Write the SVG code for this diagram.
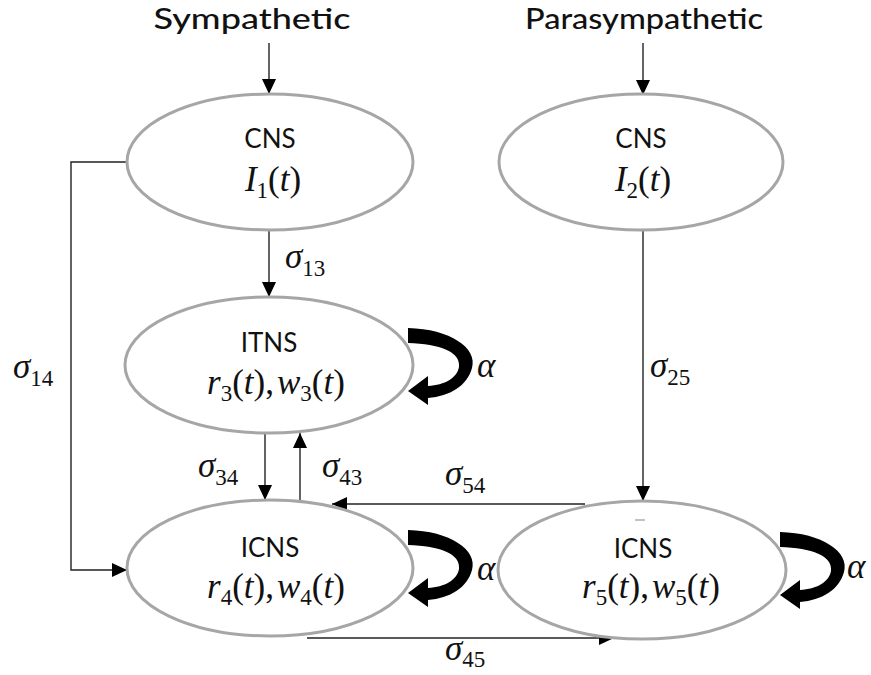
<svg xmlns="http://www.w3.org/2000/svg" width="871" height="675" viewBox="0 0 871 675">
  <defs>
    <style>
      .node { fill: #ffffff; stroke: #a6a6a6; stroke-width: 3; }
      .title { font-family: Lato, "Open Sans", sans-serif; font-size: 28px; font-weight: 500; fill: #111; text-anchor: middle; }
      .lbl { font-family: Lato, "Open Sans", sans-serif; font-size: 26px; fill: #111; text-anchor: middle; }
      .m { font-family: "Liberation Serif", "DejaVu Serif", serif; font-size: 35px; fill: #111; }
      .mc { text-anchor: middle; }
      .i { font-style: italic; }
      .sub { font-size: 23px; }
      .edge { fill: none; stroke: #222; stroke-width: 1.4; marker-end: url(#head); }
      .loop { fill: #000; }
    </style>
    <marker id="head" markerUnits="userSpaceOnUse" markerWidth="16" markerHeight="14" refX="15" refY="7" orient="auto">
      <path d="M0,0 L15,7 L0,14 Z" fill="#000"/>
    </marker>
    <!-- thick self-loop arrow, drawn relative to its top-left start -->
    <path id="selfloop" class="loop" d="M0 0 C42 1, 70 20, 64 40 C59 58, 42 68, 20 70 L20 77 L0 63 L20 48 L20 58 C37 57, 49 50, 51 39 C53 24, 32 16, 0 15 Z"/>
  </defs>

  <!-- input labels -->
  <text class="title" x="252" y="29" textLength="197" lengthAdjust="spacingAndGlyphs">Sympathetic</text>
  <text class="title" x="644" y="29" textLength="238" lengthAdjust="spacingAndGlyphs">Parasympathetic</text>

  <!-- connectors -->
  <g id="connectors">
    <line class="edge" x1="269" y1="43" x2="269" y2="94"/>
    <line class="edge" x1="643" y1="43" x2="643" y2="95"/>
    <line class="edge" x1="269" y1="230" x2="269" y2="297"/>
    <polyline class="edge" points="127,162 71,162 71,570 127,570"/>
    <line class="edge" x1="265" y1="433" x2="265" y2="500"/>
    <line class="edge" x1="300" y1="500" x2="300" y2="433"/>
    <line class="edge" x1="643" y1="231" x2="643" y2="501"/>
    <line class="edge" x1="585" y1="504" x2="332" y2="504"/>
    <line class="edge" x1="307" y1="638" x2="614" y2="638"/>

    <text class="m" x="285" y="268"><tspan class="i">σ</tspan><tspan class="sub" dy="8">13</tspan></text>
    <text class="m" x="13" y="378"><tspan class="i">σ</tspan><tspan class="sub" dy="8">14</tspan></text>
    <text class="m" x="198" y="477"><tspan class="i">σ</tspan><tspan class="sub" dy="8">34</tspan></text>
    <text class="m" x="322" y="477"><tspan class="i">σ</tspan><tspan class="sub" dy="8">43</tspan></text>
    <text class="m" x="445" y="485"><tspan class="i">σ</tspan><tspan class="sub" dy="8">54</tspan></text>
    <text class="m" x="650" y="377"><tspan class="i">σ</tspan><tspan class="sub" dy="8">25</tspan></text>
    <text class="m" x="445" y="660"><tspan class="i">σ</tspan><tspan class="sub" dy="7">45</tspan></text>

    <!-- self-excitation loops -->
    <use href="#selfloop" x="408" y="328"/>
    <use href="#selfloop" x="408" y="530"/>
    <use href="#selfloop" x="780" y="532"/>
    <text class="m i" x="477" y="377">α</text>
    <text class="m i" x="477" y="580">α</text>
    <text class="m i" x="847" y="578">α</text>
  </g>

  <g id="cns1">
    <ellipse class="node" cx="270" cy="162" rx="143" ry="68"/>
    <text class="lbl" x="270" y="148">CNS</text>
    <text class="m mc" x="273" y="191"><tspan class="i">I</tspan><tspan class="sub" dy="7">1</tspan><tspan dy="-7">(</tspan><tspan class="i">t</tspan>)</text>
  </g>

  <g id="cns2">
    <ellipse class="node" cx="641" cy="162" rx="142" ry="68"/>
    <text class="lbl" x="641" y="148">CNS</text>
    <text class="m mc" x="643" y="191"><tspan class="i">I</tspan><tspan class="sub" dy="7">2</tspan><tspan dy="-7">(</tspan><tspan class="i">t</tspan>)</text>
  </g>

  <g id="itns">
    <ellipse class="node" cx="269" cy="365" rx="144" ry="68"/>
    <text class="lbl" x="269" y="352">ITNS</text>
    <text class="m mc" x="276" y="394"><tspan class="i">r</tspan><tspan class="sub" dy="7">3</tspan><tspan dy="-7">(</tspan><tspan class="i">t</tspan>),<tspan class="i" dx="3">w</tspan><tspan class="sub" dy="7">3</tspan><tspan dy="-7">(</tspan><tspan class="i">t</tspan>)</text>
  </g>

  <g id="icns4">
    <ellipse class="node" cx="270" cy="568" rx="143" ry="68"/>
    <text class="lbl" x="270" y="557">ICNS</text>
    <text class="m mc" x="276" y="598"><tspan class="i">r</tspan><tspan class="sub" dy="7">4</tspan><tspan dy="-7">(</tspan><tspan class="i">t</tspan>),<tspan class="i" dx="3">w</tspan><tspan class="sub" dy="7">4</tspan><tspan dy="-7">(</tspan><tspan class="i">t</tspan>)</text>
  </g>

  <g id="icns5">
    <ellipse class="node" cx="642" cy="570" rx="144" ry="69"/>
    <line x1="635" y1="520" x2="645" y2="520" stroke="#999" stroke-width="1.2"/>
    <text class="lbl" x="643" y="558">ICNS</text>
    <text class="m mc" x="651" y="598"><tspan class="i">r</tspan><tspan class="sub" dy="7">5</tspan><tspan dy="-7">(</tspan><tspan class="i">t</tspan>),<tspan class="i" dx="3">w</tspan><tspan class="sub" dy="7">5</tspan><tspan dy="-7">(</tspan><tspan class="i">t</tspan>)</text>
  </g>
</svg>
